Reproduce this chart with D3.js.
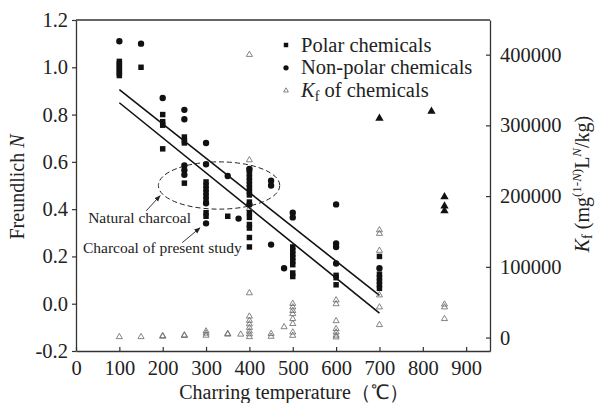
<!DOCTYPE html>
<html>
<head>
<meta charset="utf-8">
<script src="https://cdn.jsdelivr.net/npm/d3@7"></script>
<style>
  body { margin: 0; background: #fff; }
  text { font-family: "Liberation Serif", "Times New Roman", serif; fill: #222; }
  .tick text { font-size: 20.5px; }
</style>
</head>
<body>
<div class="chart"></div>
<script>
// charring temperature (C) vs Freundlich N, and Kf on the right axis
var xTicks = [0, 100, 200, 300, 400, 500, 600, 700, 800, 900];
var nTicks = [-0.2, 0.0, 0.2, 0.4, 0.6, 0.8, 1.0, 1.2];
var kTicks = [0, 100000, 200000, 300000, 400000];

// polar chemicals  [temperature, N]
var polar = [
  [100, 0.965], [100, 0.975], [100, 0.985], [100, 0.995], [100, 1.005], [100, 1.015], [100, 1.025],
  [150, 1.0],
  [200, 0.80], [200, 0.77], [200, 0.755], [200, 0.655],
  [250, 0.705], [250, 0.69], [250, 0.68], [250, 0.51],
  [300, 0.515], [300, 0.50], [300, 0.485], [300, 0.47], [300, 0.455], [300, 0.44], [300, 0.385], [300, 0.37],
  [350, 0.37],
  [400, 0.565], [400, 0.55], [400, 0.535], [400, 0.52], [400, 0.505], [400, 0.49], [400, 0.475], [400, 0.46],
  [400, 0.43], [400, 0.385], [400, 0.365], [400, 0.335], [400, 0.32], [400, 0.28], [400, 0.24],
  [500, 0.24], [500, 0.225], [500, 0.21], [500, 0.195], [500, 0.18], [500, 0.165], [500, 0.13], [500, 0.115],
  [600, 0.12], [600, 0.11], [600, 0.08],
  [700, 0.20], [700, 0.125], [700, 0.11], [700, 0.095], [700, 0.08], [700, 0.065]
];

// non-polar chemicals  [temperature, N]
var nonPolar = [
  [100, 1.11], [150, 1.10], [200, 0.87],
  [250, 0.82], [250, 0.78], [250, 0.585], [250, 0.565], [250, 0.545],
  [300, 0.68], [300, 0.59], [300, 0.425], [300, 0.34],
  [350, 0.54], [375, 0.36],
  [400, 0.57], [400, 0.42],
  [450, 0.52], [450, 0.50], [450, 0.25],
  [480, 0.15],
  [500, 0.385], [500, 0.365],
  [600, 0.42], [600, 0.255], [600, 0.24], [600, 0.17],
  [700, 0.15]
];

// Kf of chemicals  [temperature, Kf]
var kfOpen = [
  [100, 1000], [150, 1000], [200, 1500], [200, 2500], [250, 2500], [250, 3500],
  [300, 3000], [300, 6000], [300, 9000], [350, 4500], [350, 5500], [380, 4500],
  [400, 400000], [400, 251000], [400, 182500], [400, 63000], [400, 30000], [400, 24000],
  [400, 19000], [400, 14000], [400, 9000], [400, 5000], [400, 1000],
  [450, 1500], [450, 5500], [480, 15000],
  [500, 48000], [500, 43000], [500, 38000], [500, 33500], [500, 26500], [500, 19500], [500, 7500], [500, 2800],
  [600, 53000], [600, 47500], [600, 23500], [600, 12300], [600, 7500], [600, 3000], [600, 500],
  [700, 152000], [700, 147000], [700, 123000], [700, 60000], [700, 43000], [700, 18000],
  [850, 47000], [850, 43000], [850, 26500]
];
var kfFilled = [[700, 310000], [820, 320000], [850, 199000], [850, 186000], [850, 179000]];

// the two fitted lines  [temperature, N]
var lineNatural = [[100, 0.905], [700, 0.035]];
var lineStudy = [[100, 0.85], [700, -0.04]];

var svgWidth = 596;
var svgHeight = 403;
var margin = { top: 20, right: 106, bottom: 52, left: 76 };
var width = svgWidth - margin.left - margin.right;
var height = svgHeight - margin.top - margin.bottom;

var svg = d3.select(".chart")
  .append("svg")
  .attr("width", svgWidth)
  .attr("height", svgHeight);

var chartGroup = svg.append("g")
  .attr("transform", `translate(${margin.left}, ${margin.top})`);

var xScale = d3.scaleLinear().domain([0, 955]).range([0, width]);
var nScale = d3.scaleLinear().domain([-0.2, 1.2]).range([height, 0]);
var kScale = d3.scaleLinear().domain([-19000, 449000]).range([height, 0]);

var axisColor = "#333";
var serif = "'Liberation Serif', 'Times New Roman', serif";

// axes
var bottomAxis = d3.axisBottom(xScale).tickValues(xTicks)
  .tickSizeInner(-4).tickSizeOuter(0).tickPadding(9);
var leftAxis = d3.axisLeft(nScale).tickValues(nTicks)
  .tickSizeInner(4).tickSizeOuter(0).tickPadding(4)
  .tickFormat(d => d.toFixed(1));
var rightAxis = d3.axisRight(kScale).tickValues(kTicks)
  .tickSizeInner(-4).tickSizeOuter(0).tickPadding(10)
  .tickFormat(d3.format("d"));

chartGroup.append("g")
  .attr("transform", `translate(0, ${height})`)
  .call(bottomAxis);
chartGroup.append("g").call(leftAxis);
chartGroup.append("g")
  .attr("transform", `translate(${width}, 0)`)
  .call(rightAxis);

chartGroup.selectAll(".domain").attr("stroke", axisColor).attr("stroke-width", 1.3);
chartGroup.selectAll(".tick line").attr("stroke", axisColor).attr("stroke-width", 1.2);
chartGroup.selectAll(".tick text")
  .attr("fill", "#222")
  .attr("font-family", serif)
  .attr("font-size", 20.5);

// top border
chartGroup.append("line")
  .attr("x1", 0).attr("x2", width)
  .attr("y1", 0).attr("y2", 0)
  .attr("stroke", axisColor).attr("stroke-width", 1.3);

// fitted lines
var line = d3.line().x(d => xScale(d[0])).y(d => nScale(d[1]));
[lineNatural, lineStudy].forEach(function(pts) {
  chartGroup.append("path")
    .attr("d", line(pts))
    .attr("fill", "none")
    .attr("stroke", "#111")
    .attr("stroke-width", 1.6);
});

// dashed ellipse round the natural charcoal values
var ell = { t: 330, n: 0.5, rt: 140, rn: 0.1 };
chartGroup.append("ellipse")
  .attr("cx", xScale(ell.t))
  .attr("cy", nScale(ell.n))
  .attr("rx", xScale(ell.t + ell.rt) - xScale(ell.t))
  .attr("ry", nScale(ell.n - ell.rn) - nScale(ell.n))
  .attr("fill", "none")
  .attr("stroke", "#222")
  .attr("stroke-width", 1)
  .attr("stroke-dasharray", "5,3");

// points
var sq = d3.symbol().type(d3.symbolSquare).size(30);
var dot = d3.symbol().type(d3.symbolCircle).size(32);
var tri = d3.symbol().type(d3.symbolTriangle).size(16);
var triBig = d3.symbol().type(d3.symbolTriangle).size(30);

chartGroup.selectAll(".kf").data(kfOpen).enter()
  .append("path")
  .attr("class", "kf")
  .attr("d", tri)
  .attr("transform", d => `translate(${xScale(d[0])}, ${kScale(d[1])})`)
  .attr("fill", "none")
  .attr("stroke", "#666")
  .attr("stroke-width", 0.8);

chartGroup.selectAll(".kff").data(kfFilled).enter()
  .append("path")
  .attr("class", "kff")
  .attr("d", triBig)
  .attr("transform", d => `translate(${xScale(d[0])}, ${kScale(d[1])})`)
  .attr("fill", "#111");

chartGroup.selectAll(".polar").data(polar).enter()
  .append("path")
  .attr("class", "polar")
  .attr("d", sq)
  .attr("transform", d => `translate(${xScale(d[0])}, ${nScale(d[1])})`)
  .attr("fill", "#111");

chartGroup.selectAll(".nonpolar").data(nonPolar).enter()
  .append("path")
  .attr("class", "nonpolar")
  .attr("d", dot)
  .attr("transform", d => `translate(${xScale(d[0])}, ${nScale(d[1])})`)
  .attr("fill", "#111");

// annotations
svg.append("defs").append("marker")
  .attr("id", "arrow")
  .attr("viewBox", "0 0 10 10")
  .attr("refX", 9).attr("refY", 5)
  .attr("markerWidth", 7).attr("markerHeight", 7)
  .attr("orient", "auto")
  .append("path")
  .attr("d", "M0,1 L10,5 L0,9 Z")
  .attr("fill", "#222");

var notes = [
  { text: "Natural charcoal", t: 28, n: 0.342, from: [162, 0.393], to: [194, 0.457] },
  { text: "Charcoal of present study", t: 16, n: 0.216, from: [245, 0.258], to: [286, 0.321] }
];
notes.forEach(function(a) {
  chartGroup.append("text")
    .attr("x", xScale(a.t))
    .attr("y", nScale(a.n))
    .style("font-size", "15.5px")
    .text(a.text);
  chartGroup.append("line")
    .attr("x1", xScale(a.from[0])).attr("y1", nScale(a.from[1]))
    .attr("x2", xScale(a.to[0])).attr("y2", nScale(a.to[1]))
    .attr("stroke", "#222").attr("stroke-width", 0.9)
    .attr("marker-end", "url(#arrow)");
});

// legend
var legend = chartGroup.append("g")
  .attr("transform", "translate(210, 25)");
var legendRows = [
  { sym: d3.symbol().type(d3.symbolSquare).size(20), fill: "#111", stroke: "none" },
  { sym: d3.symbol().type(d3.symbolCircle).size(22), fill: "#111", stroke: "none" },
  { sym: d3.symbol().type(d3.symbolTriangle).size(10), fill: "none", stroke: "#666" }
];
legendRows.forEach(function(r, i) {
  legend.append("path")
    .attr("d", r.sym)
    .attr("transform", `translate(0, ${i * 22.8})`)
    .attr("fill", r.fill)
    .attr("stroke", r.stroke)
    .attr("stroke-width", 0.8);
});
legend.append("text").attr("x", 15).attr("y", 6.5)
  .style("font-size", "20.5px").text("Polar chemicals");
legend.append("text").attr("x", 15).attr("y", 29.3)
  .style("font-size", "20.5px").text("Non-polar chemicals");
var kfText = legend.append("text").attr("x", 15).attr("y", 52.1)
  .style("font-size", "20.5px");
kfText.append("tspan").style("font-style", "italic").text("K");
kfText.append("tspan").attr("dy", 4).style("font-size", "14px").text("f");
kfText.append("tspan").attr("dy", -4).text(" of chemicals");

// axis titles
svg.append("text")
  .attr("transform", `translate(24, 187) rotate(-90)`)
  .attr("text-anchor", "middle")
  .style("font-size", "20px")
  .text("Freundlich ")
  .append("tspan").style("font-style", "italic").text("N");

svg.append("text")
  .attr("x", 294)
  .attr("y", 399)
  .attr("text-anchor", "middle")
  .style("font-size", "20px")
  .text("Charring temperature（℃）");

var kTitle = svg.append("text")
  .attr("transform", `translate(589, 184) rotate(-90)`)
  .attr("text-anchor", "middle")
  .style("font-size", "20px");
kTitle.append("tspan").style("font-style", "italic").text("K");
kTitle.append("tspan").attr("dy", 3).style("font-size", "14px").text("f");
kTitle.append("tspan").attr("dy", -3).text(" (mg");
kTitle.append("tspan").attr("dy", -8).style("font-size", "13px").text("(1-");
kTitle.append("tspan").style("font-size", "13px").style("font-style", "italic").text("N");
kTitle.append("tspan").style("font-size", "13px").text(")");
kTitle.append("tspan").attr("dy", 8).text("L");
kTitle.append("tspan").attr("dy", -8).style("font-size", "13px").style("font-style", "italic").text("N");
kTitle.append("tspan").attr("dy", 8).text("/kg)");
</script>
</body>
</html>
